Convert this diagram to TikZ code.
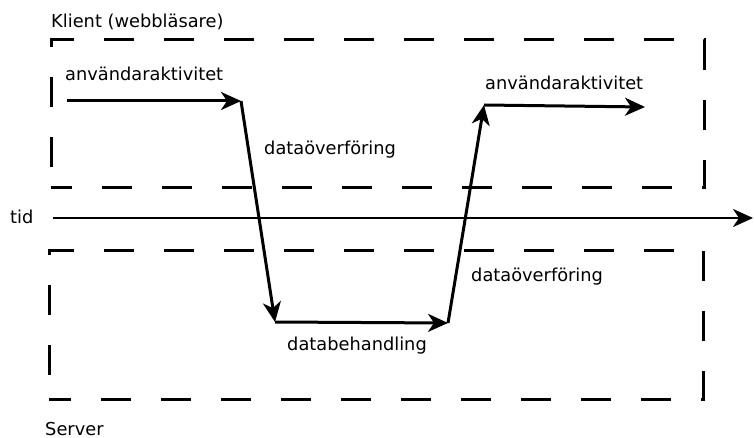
\documentclass[tikz,border=0pt]{standalone}
\usepackage{fontspec}
\setmainfont{DejaVu Sans}
\usetikzlibrary{arrows.meta}

\begin{document}
\begin{tikzpicture}[x=1pt, y=-1pt,
                every node/.style = {font=\fontsize{17.8pt}{21pt}\selectfont, inner sep=0pt, anchor=base west},
                box/.style = {line width=3pt, dash pattern=on 30pt off 30pt},
                flow/.style = {line width=3pt, -{Stealth[length=20pt, width=18pt, inset=6pt]}}
            ]
            \useasboundingbox (0,0) rectangle (754,438);

            % klient och server
            \draw[box, dash phase=39pt] (51,188) rectangle (704,40);
            \draw[box, dash phase=36pt] (49,399) rectangle (703,250);
            \node (klient) at (51,28) {Klient (webbläsare)};
            \node (server) at (45,435) {Server};

            % tidsaxel
            \node (tid) at (10,223) {tid};
            \coordinate (t0) at (53,218);
            \coordinate (t1) at (753,218);
            \draw[flow, line width=2.5pt] (t0) -- (t1);

            % punkter
            \coordinate (k1) at (67,101);
            \coordinate (k2) at (241,101);
            \coordinate (s1) at (275,322);
            \coordinate (s2) at (448,323);
            \coordinate (k3) at (484,105);
            \coordinate (k4) at (645,107);

            \draw[flow] (k1) -- (k2);
            \draw[flow] (k2) -- (s1);
            \draw[flow] (s1) -- (s2);
            \draw[flow] (s2) -- (k3);
            \draw[flow] (k3) -- (k4);

            \node (akt1) at (65,81) {användaraktivitet};
            \node (overf1) at (264,155) {dataöverföring};
            \node (behand) at (287,350) {databehandling};
            \node (overf2) at (471,281) {dataöverföring};
            \node (akt2) at (485,90) {användaraktivitet};
        \end{tikzpicture}
\end{document}
